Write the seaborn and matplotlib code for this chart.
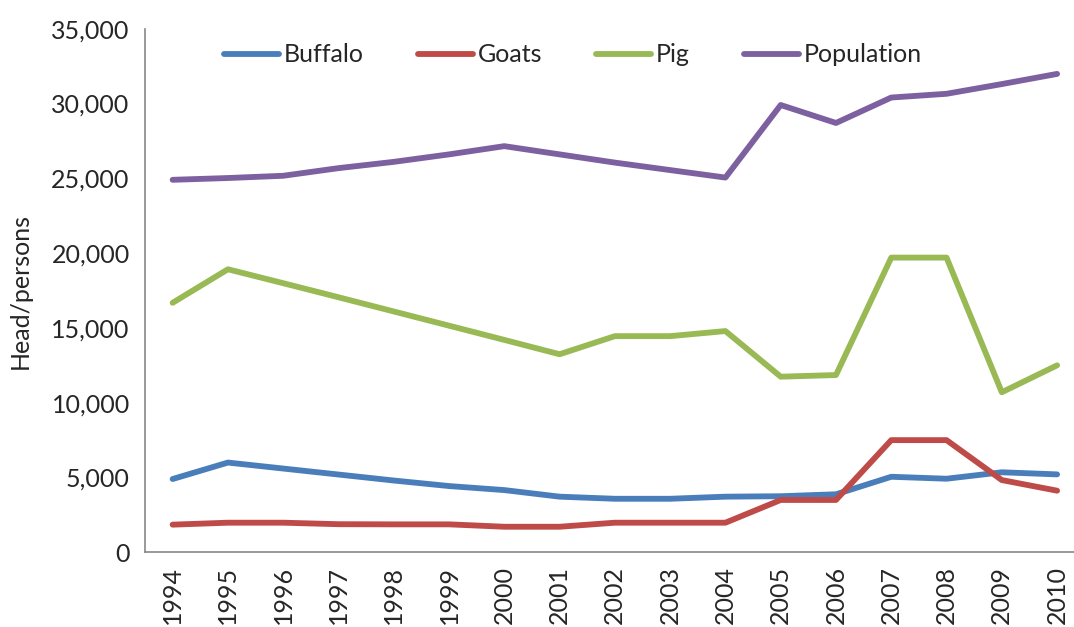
import matplotlib
matplotlib.use("Agg")
import matplotlib.pyplot as plt
from matplotlib.ticker import FuncFormatter, FixedLocator
import seaborn as sns
import pandas as pd
import numpy as np

years = [str(y) for y in range(1994, 2011)]
buffalo = [4900, 6000, 5600, 5200, 4800, 4430, 4160, 3720, 3580, 3580, 3720, 3750, 3880, 5050, 4920, 5350, 5210]
goats = [1850, 1980, 1980, 1880, 1870, 1870, 1710, 1710, 1980, 1980, 1980, 3500, 3500, 7500, 7500, 4830, 4120]
pig = [16680, 18920, 17990, 17050, 16100, 15150, 14200, 13240, 14450, 14450, 14790, 11740, 11850, 19700, 19700, 10700, 12500]
population = [24900, 25020, 25170, 25680, 26100, 26600, 27150, 26600, 26050, 25550, 25050, 29900, 28700, 30400, 30650, 31300, 31980]

series_names = ["Buffalo", "Goats", "Pig", "Population"]
colors = ["#4A7EBB", "#BE4B48", "#98B954", "#7D60A0"]

df = pd.DataFrame({"Year": years, "Buffalo": buffalo, "Goats": goats,
                   "Pig": pig, "Population": population})
long = df.melt(id_vars="Year", var_name="Series", value_name="Value")

sns.set_style("white")
plt.rcParams["font.family"] = ["Lato", "DejaVu Sans"]

fig = plt.figure(figsize=(10.74, 6.27), dpi=100)
ax = fig.add_axes([0.135, 0.1191, 0.875, 0.8351])

sns.lineplot(data=long, x="Year", y="Value", hue="Series", hue_order=series_names,
             palette=colors, linewidth=4.2, sort=False, ax=ax)

ax.set_xlim(-0.5, len(years) - 0.5)
ax.set_ylim(0, 35000)
ax.yaxis.set_major_locator(FixedLocator(np.arange(0, 35001, 5000)))
ax.yaxis.set_major_formatter(FuncFormatter(lambda v, p: f"{int(v):,}"))

# category ticks sit between years, labels at the centres
ax.set_xticks(range(len(years)))
ax.set_xticklabels(years, rotation=90)
ax.set_xticks(np.arange(-0.5, len(years), 1.0), minor=True)
ax.tick_params(axis="x", which="major", length=0, pad=10, labelsize=18)
ax.tick_params(axis="x", which="minor", length=7, width=1.2, color="#888888", direction="out")
ax.tick_params(axis="y", which="major", length=7, width=1.2, color="#888888",
               direction="out", labelsize=18, pad=4)

for side in ["top", "right"]:
    ax.spines[side].set_visible(False)
for side in ["left", "bottom"]:
    ax.spines[side].set_color("#888888")
    ax.spines[side].set_linewidth(1.2)

ax.set_xlabel("")
ax.set_ylabel("Head/persons", fontsize=18, labelpad=14)

handles, labels = ax.get_legend_handles_labels()
leg = ax.legend(handles, labels, loc="center left", bbox_to_anchor=(0.071, 0.95),
                ncol=4, frameon=False, fontsize=18, handlelength=2.2, borderpad=0,
                handletextpad=0.2, columnspacing=2.15)
for line in leg.get_lines():
    line.set_linewidth(4.2)
    line.set_solid_capstyle("round")

fig.savefig("out.png", dpi=100)
